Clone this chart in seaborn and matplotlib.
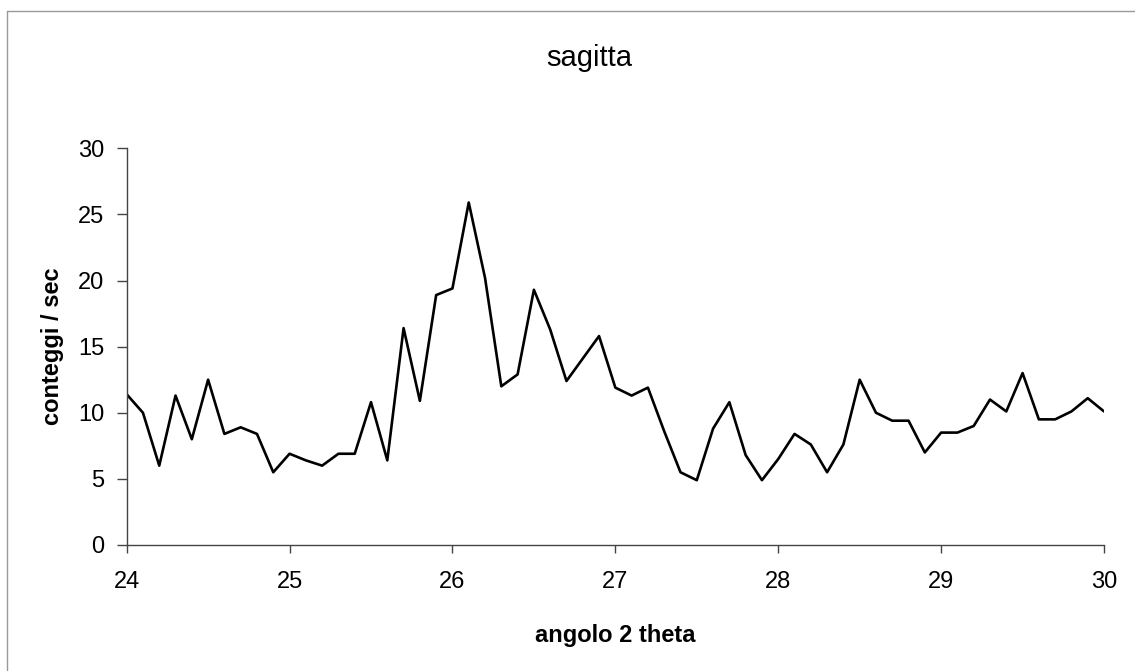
import numpy as np
import pandas as pd
import matplotlib
matplotlib.use("Agg")
import matplotlib.pyplot as plt
import seaborn as sns
from matplotlib.lines import Line2D

# Data
angle = [24.0, 24.1, 24.2, 24.3, 24.4, 24.5, 24.6, 24.7, 24.8, 24.9,
         25.0, 25.1, 25.2, 25.3, 25.4, 25.5, 25.6, 25.7, 25.8, 25.9,
         26.0, 26.1, 26.2, 26.3, 26.4, 26.5, 26.6, 26.7, 26.8, 26.9,
         27.0, 27.1, 27.2, 27.3, 27.4, 27.5, 27.6, 27.7, 27.8, 27.9,
         28.0, 28.1, 28.2, 28.3, 28.4, 28.5, 28.6, 28.7, 28.8, 28.9,
         29.0, 29.1, 29.2, 29.3, 29.4, 29.5, 29.6, 29.7, 29.8, 29.9,
         30.0]
counts = [11.4, 10.0, 6.0, 11.3, 8.0, 12.5, 8.4, 8.9, 8.4, 5.5,
          6.9, 6.4, 6.0, 6.9, 6.9, 10.8, 6.4, 16.4, 10.9, 18.9,
          19.4, 25.9, 20.2, 12.0, 12.9, 19.3, 16.3, 12.4, 14.1, 15.8,
          11.9, 11.3, 11.9, 8.6, 5.5, 4.9, 8.8, 10.8, 6.8, 4.9,
          6.5, 8.4, 7.6, 5.5, 7.6, 12.5, 10.0, 9.4, 9.4, 7.0,
          8.5, 8.5, 9.0, 11.0, 10.1, 13.0, 9.5, 9.5, 10.1, 11.1,
          10.1]
x_ticks = [24, 25, 26, 27, 28, 29, 30]
y_ticks = [0, 5, 10, 15, 20, 25, 30]
title = "sagitta"
x_label = "angolo 2 theta"
y_label = "conteggi / sec"

df = pd.DataFrame({"angle": angle, "counts": counts})

sns.set_theme(style="white")
plt.rcParams['font.family'] = ['Liberation Sans', 'DejaVu Sans']
plt.rcParams['text.color'] = 'black'
plt.rcParams['axes.labelcolor'] = 'black'
plt.rcParams['xtick.color'] = 'black'
plt.rcParams['ytick.color'] = 'black'

fig = plt.figure(figsize=(11.35, 6.71), dpi=100)
ax = fig.add_axes([0.1116, 0.1878, 0.9727 - 0.1116, 0.779 - 0.1878])

sns.lineplot(data=df, x="angle", y="counts", ax=ax, color="black",
             linewidth=1.9, estimator=None, sort=False)

ax.set_xlim(24, 30)
ax.set_ylim(0, 30)
ax.set_xticks(x_ticks)
ax.set_yticks(y_ticks)
ax.set_xticklabels([str(t) for t in x_ticks])
ax.set_yticklabels([str(t) for t in y_ticks])

for s in ["top", "right"]:
    ax.spines[s].set_visible(False)
for s in ["left", "bottom"]:
    ax.spines[s].set_color("#444444")
    ax.spines[s].set_linewidth(1.0)

ax.tick_params(axis="x", direction="out", length=6, width=1, color="#444444",
               labelcolor="black", labelsize=17, pad=13, bottom=True)
ax.tick_params(axis="y", direction="out", length=7, width=1, color="#444444",
               labelcolor="black", labelsize=17, pad=9, left=True)

ax.set_xlabel(x_label, fontsize=17, fontweight="bold", labelpad=22, color="black")
ax.set_ylabel(y_label, fontsize=17, fontweight="bold", labelpad=10, color="black")

fig.text(0.5195, 1 - 58 / 671, title, ha="center", va="center", fontsize=21,
         color="black")

# Outer frame (left and top edges visible in reference)
fig.add_artist(Line2D([7 / 1135, 7 / 1135], [0, 1 - 11 / 671],
                      transform=fig.transFigure, color="#999999", linewidth=1))
fig.add_artist(Line2D([7 / 1135, 1], [1 - 11 / 671, 1 - 11 / 671],
                      transform=fig.transFigure, color="#999999", linewidth=1))

fig.savefig("out.png", dpi=100, facecolor="white")
